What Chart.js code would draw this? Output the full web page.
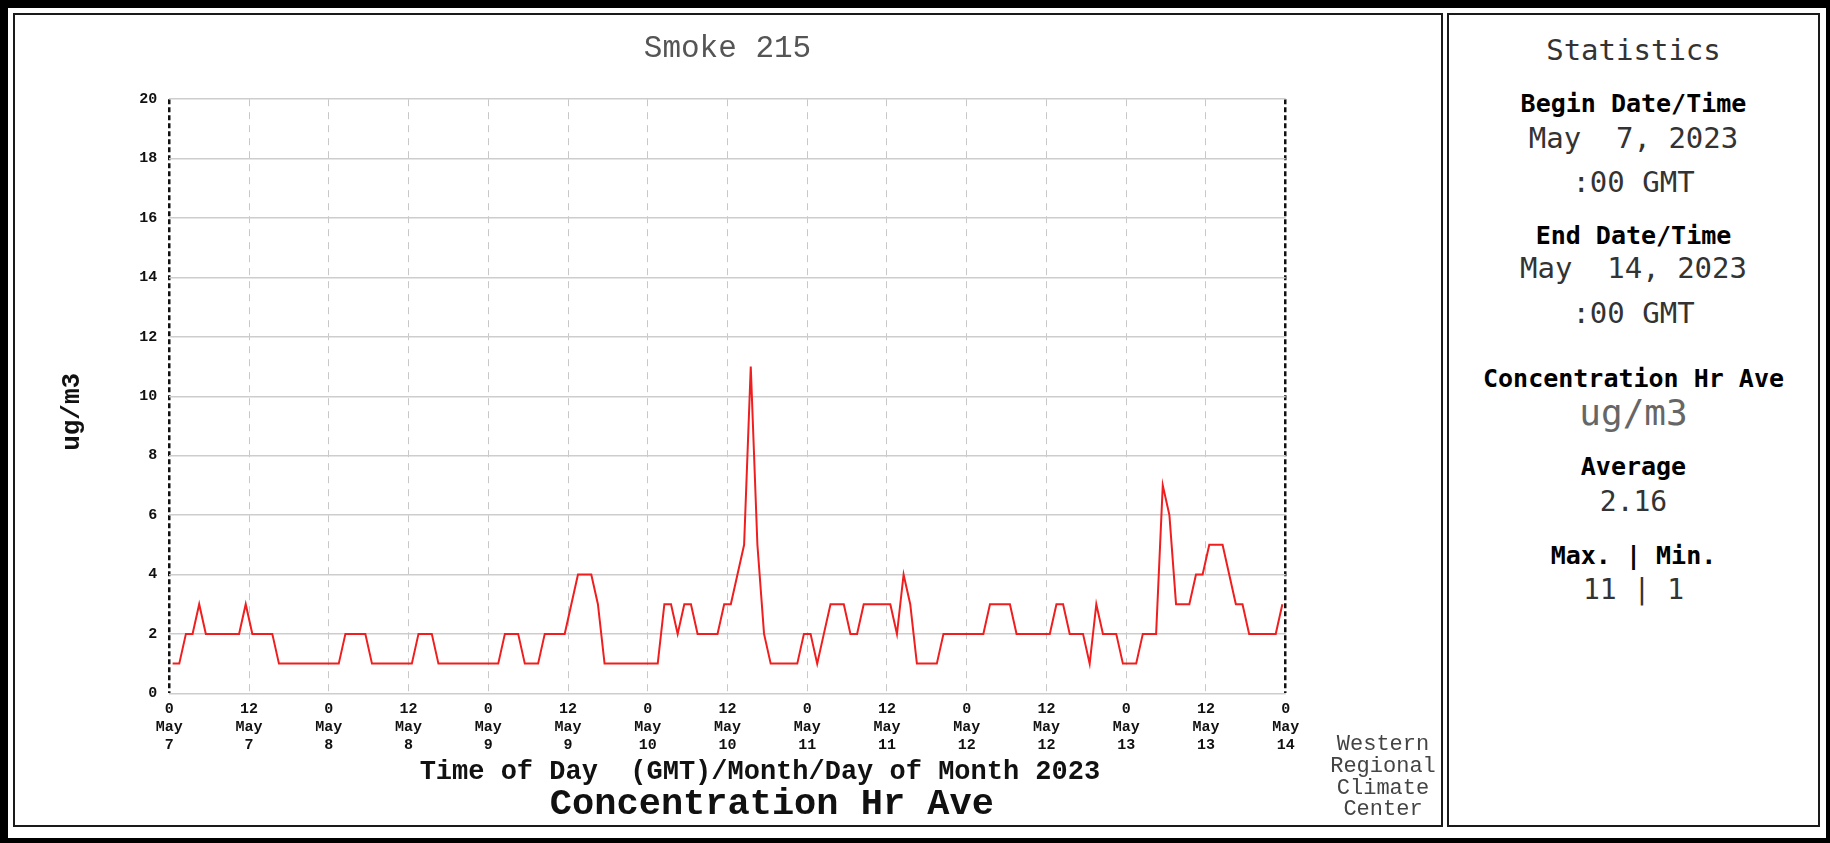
<!DOCTYPE html>
<html>
<head>
<meta charset="utf-8">
<script src="https://cdn.jsdelivr.net/npm/chart.js@4.4.0/dist/chart.umd.min.js"></script>
<style>
html,body{margin:0;padding:0;background:#fff;}
body{width:1830px;height:843px;position:relative;overflow:hidden;}
#frame{position:absolute;left:0;top:0;width:1830px;height:843px;background:#000;}
#inner{position:absolute;left:8px;top:8px;width:1818px;height:830px;background:#fff;}
.panel{position:absolute;top:13px;height:810px;border:2px solid #1a1a1a;}
#leftPanel{left:13px;width:1426px;}
#rightPanel{left:1447px;width:369px;}
#chartBox{position:absolute;left:24px;top:0;width:1416px;height:843px;}
.st{position:absolute;left:1449px;width:369px;text-align:center;white-space:pre;font-family:'DejaVu Sans Mono',monospace;color:#333;line-height:1;}
.st.b{font-weight:bold;color:#000;}
#wrcc{position:absolute;left:1283px;width:200px;top:734px;text-align:center;font-family:'Liberation Mono',monospace;font-size:22px;line-height:21.8px;color:#444;}
</style>
</head>
<body>
<div id="frame"></div>
<div id="inner"></div>
<div class="panel" id="leftPanel"></div>
<div class="panel" id="rightPanel"></div>
<div id="chartBox"><canvas id="c" width="1416" height="843"></canvas></div>
<div id="wrcc">Western<br>Regional<br>Climate<br>Center</div>
<div id="stats"></div>
<script>
// ---- data ----
const chartTitle = 'Smoke 215';
const yTitle = 'ug/m3';
const xTitle = 'Time of Day  (GMT)/Month/Day of Month 2023';
const subTitle = 'Concentration Hr Ave';

// hourly averages (ug/m3), May 7 00 GMT .. May 13 23 GMT, plotted at mid-hour
const values = [
  1,1,2,2,3,2,2,2,2,2,2,3,2,2,2,2,1,1,1,1,1,1,1,1,
  1,1,2,2,2,2,1,1,1,1,1,1,1,2,2,2,1,1,1,1,1,1,1,1,
  1,1,2,2,2,1,1,1,2,2,2,2,3,4,4,4,3,1,1,1,1,1,1,1,
  1,1,3,3,2,3,3,2,2,2,2,3,3,4,5,11,5,2,1,1,1,1,1,2,
  2,1,2,3,3,3,2,2,3,3,3,3,3,2,4,3,1,1,1,1,2,2,2,2,
  2,2,2,3,3,3,3,2,2,2,2,2,2,3,3,2,2,2,1,3,2,2,2,1,
  1,1,2,2,2,7,6,3,3,3,4,4,5,5,5,4,3,3,2,2,2,2,2,3
];

const tickHours = [0,12,24,36,48,60,72,84,96,108,120,132,144,156,168];
const tickTimes = ['0','12','0','12','0','12','0','12','0','12','0','12','0','12','0'];
const tickMonth = 'May';
const tickDays  = ['7','7','8','8','9','9','10','10','11','11','12','12','13','13','14'];

const statsLines = [
  ['Statistics', false, 29, 50, '#333'],
  ['Begin Date/Time', true, 25, 103, '#000'],
  ['May  7, 2023', false, 29, 138.5, '#333'],
  [':00 GMT', false, 29, 182, '#333'],
  ['End Date/Time', true, 25, 235, '#000'],
  ['May  14, 2023', false, 29, 268.5, '#333'],
  [':00 GMT', false, 29, 313.5, '#333'],
  ['Concentration Hr Ave', true, 25, 378.5, '#000'],
  ['ug/m3', false, 36, 413, '#666'],
  ['Average', true, 25, 466, '#000'],
  ['2.16', false, 28, 502, '#333'],
  ['Max. | Min.', true, 25, 555, '#000'],
  ['11 | 1', false, 28, 590, '#333']
];

// ---- stats panel ----
const statsEl = document.getElementById('stats');
statsLines.forEach(([t, bold, size, cy, col]) => {
  const d = document.createElement('div');
  d.className = 'st' + (bold ? ' b' : '');
  d.textContent = t;
  d.style.fontSize = size + 'px';
  d.style.top = (cy - size / 2) + 'px';
  d.style.color = col;
  statsEl.appendChild(d);
});

// ---- chart ----
const FONT = "'Liberation Mono', monospace";
const points = values.map((v, i) => ({ x: i + 0.5, y: v }));
const isEnd = c => !!(c && c.tick && (c.tick.value === tickHours[0] || c.tick.value === tickHours[tickHours.length - 1]));

new Chart(document.getElementById('c'), {
  type: 'line',
  data: {
    datasets: [{
      data: points,
      borderColor: '#f01e1e',
      borderWidth: 2,
      pointRadius: 0,
      tension: 0,
      fill: false
    }]
  },
  options: {
    responsive: false,
    animation: false,
    devicePixelRatio: 1,
    layout: { padding: { left: 0, right: 154.3, top: 0, bottom: 14.5 } },
    plugins: {
      legend: { display: false },
      tooltip: { enabled: false },
      title: {
        display: true, text: chartTitle, fullSize: false, color: '#555',
        font: { family: FONT, size: 31, weight: 'normal', lineHeight: 1 },
        padding: { top: 33.5, bottom: 34.7 }
      },
      subtitle: {
        display: true, position: 'bottom', fullSize: false,
        text: '    ' + subTitle, color: '#111',
        font: { family: FONT, size: 37, weight: 'bold', lineHeight: 1 },
        padding: { top: 0.9, bottom: 5 }
      }
    },
    scales: {
      x: {
        type: 'linear', min: tickHours[0], max: tickHours[tickHours.length - 1],
        afterFit: s => { s.height = 92.3; },
        ticks: {
          stepSize: 12, autoSkip: false, maxRotation: 0, minRotation: 0,
          padding: 7, color: '#111',
          font: { family: FONT, size: 15, weight: 'bold', lineHeight: 1.2 },
          callback: (v, i) => [tickTimes[i], tickMonth, tickDays[i]]
        },
        grid: {
          drawTicks: false,
          color: c => isEnd(c) ? '#111' : '#c8c8c8',
          lineWidth: c => isEnd(c) ? 2.5 : 1
        },
        border: { display: false, dash: c => isEnd(c) ? [5, 3] : [7, 6] },
        title: {
          display: true, text: '    ' + xTitle, color: '#111',
          font: { family: FONT, size: 27, weight: 'bold', lineHeight: 1 },
          padding: { top: 0, bottom: 0 }
        }
      },
      y: {
        min: 0, max: 20,
        afterFit: s => { s.width = 145.3; },
        ticks: {
          stepSize: 2, padding: 12, color: '#111',
          font: { family: FONT, size: 15, weight: 'bold' }
        },
        grid: { drawTicks: false, color: '#cdcdcd', lineWidth: 1.5 },
        border: { display: false },
        title: {
          display: true, text: yTitle + '  ', color: '#111',
          font: { family: FONT, size: 26, weight: 'bold', lineHeight: 1 },
          padding: { top: 35, bottom: 0 }
        }
      }
    }
  }
});
</script>
</body>
</html>
